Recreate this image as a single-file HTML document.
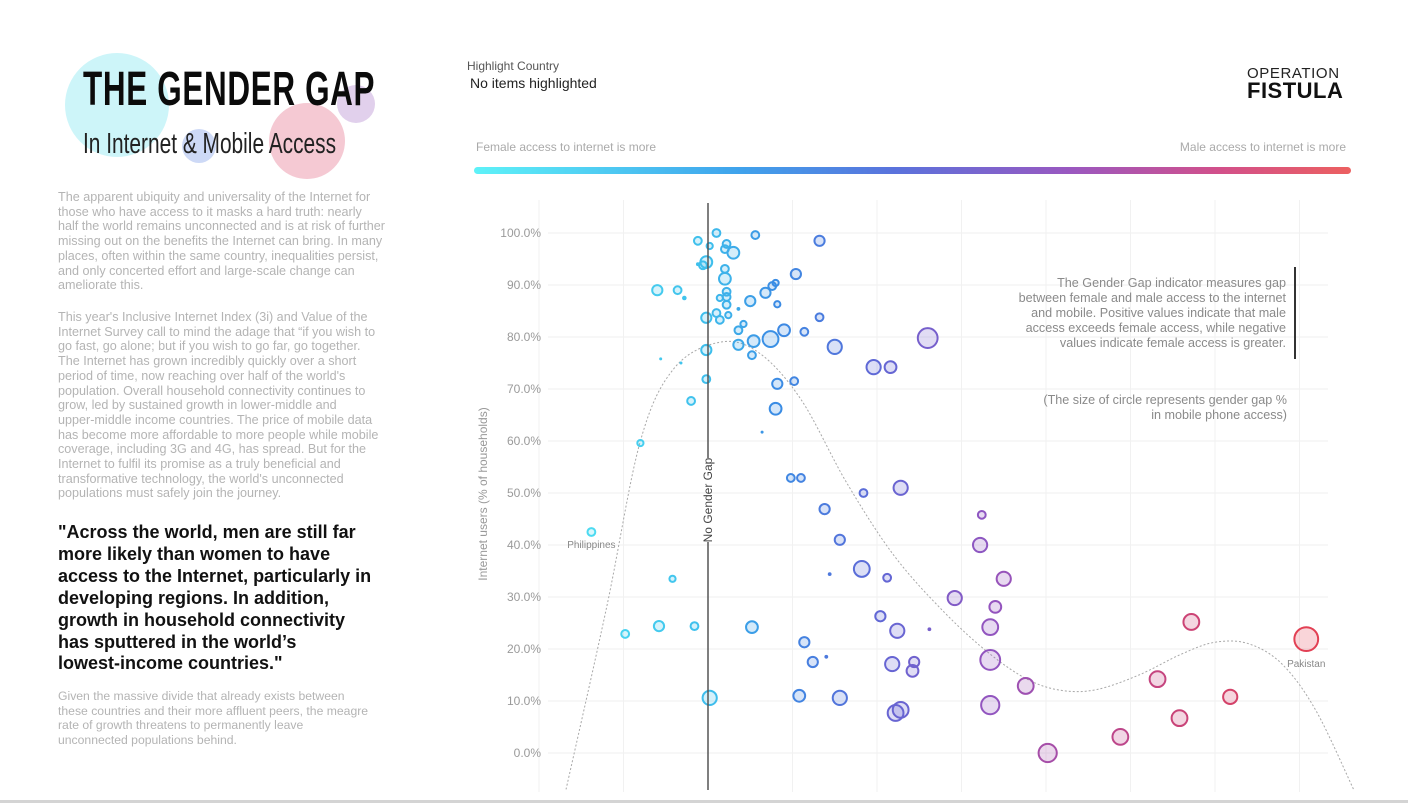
<!DOCTYPE html>
<html><head><meta charset="utf-8">
<style>
html,body{margin:0;padding:0;background:#fff;}
body{width:1408px;height:806px;position:relative;overflow:hidden;font-family:"Liberation Sans",sans-serif;}
.abs{position:absolute;}
.para{position:absolute;left:58px;width:340px;font-size:12.6px;line-height:14.7px;color:#b4b4b4;white-space:nowrap;}
.quote{position:absolute;left:58px;font-size:18px;line-height:21.9px;color:#111;font-weight:bold;white-space:nowrap;}
</style></head>
<body>
<div class="abs" style="left:65px;top:53px;width:104px;height:104px;border-radius:50%;background:#cdf5f9;"></div>
<div class="abs" style="left:269px;top:103px;width:76px;height:76px;border-radius:50%;background:#f5c9d3;"></div>
<div class="abs" style="left:337px;top:85px;width:38px;height:38px;border-radius:50%;background:#e1d0ec;"></div>
<div class="abs" style="left:182px;top:129px;width:34px;height:34px;border-radius:50%;background:#cdd9f6;"></div>
<div class="abs" style="left:83px;top:64px;font-size:48px;font-weight:bold;color:#0b0b0b;transform:scaleX(0.655);transform-origin:0 0;white-space:nowrap;letter-spacing:1px;line-height:52px;">THE GENDER GAP</div>
<div class="abs" style="left:83px;top:128px;font-size:29px;color:#222;transform:scaleX(0.72);transform-origin:0 0;white-space:nowrap;line-height:32px;">In Internet &amp; Mobile Access</div>

<div class="para" style="top:190px;">The apparent ubiquity and universality of the Internet for<br>those who have access to it masks a hard truth: nearly<br>half the world remains unconnected and is at risk of further<br>missing out on the benefits the Internet can bring. In many<br>places, often within the same country, inequalities persist,<br>and only concerted effort and large-scale change can<br>ameliorate this.</div>
<div class="para" style="top:310px;">This year's Inclusive Internet Index (3i) and Value of the<br>Internet Survey call to mind the adage that “if you wish to<br>go fast, go alone; but if you wish to go far, go together.<br>The Internet has grown incredibly quickly over a short<br>period of time, now reaching over half of the world's<br>population. Overall household connectivity continues to<br>grow, led by sustained growth in lower-middle and<br>upper-middle income countries. The price of mobile data<br>has become more affordable to more people while mobile<br>coverage, including 3G and 4G, has spread. But for the<br>Internet to fulfil its promise as a truly beneficial and<br>transformative technology, the world's unconnected<br>populations must safely join the journey.</div>
<div class="quote" style="top:522px;">"Across the world, men are still far<br>more likely than women to have<br>access to the Internet, particularly in<br>developing regions. In addition,<br>growth in household connectivity<br>has sputtered in the world’s<br>lowest-income countries."</div>
<div class="para" style="top:689px;font-size:12.2px;">Given the massive divide that already exists between<br>these countries and their more affluent peers, the meagre<br>rate of growth threatens to permanently leave<br>unconnected populations behind.</div>

<div class="abs" style="left:467px;top:59px;font-size:12px;color:#555;">Highlight Country</div>
<div class="abs" style="left:470px;top:75px;font-size:14px;color:#222;">No items highlighted</div>
<div class="abs" style="left:1247px;top:65px;font-size:15px;color:#222;letter-spacing:0.6px;">OPERATION</div>
<div class="abs" style="left:1247px;top:78px;font-size:22px;font-weight:bold;color:#111;letter-spacing:0.5px;">FISTULA</div>
<div class="abs" style="left:476px;top:140px;font-size:12px;color:#aaa;">Female access to internet is more</div>
<div class="abs" style="right:62px;top:140px;font-size:12px;color:#aaa;">Male access to internet is more</div>
<div class="abs" style="left:474px;top:167px;width:877px;height:7px;border-radius:4px;background:linear-gradient(90deg,#5ef2f8 0%,#3fa3ec 30%,#5a72dc 48%,#9a58c0 68%,#d2508a 85%,#ec6060 100%);"></div>

<svg class="abs" style="left:0;top:0" width="1408" height="806">
<g id="grid"></g><g id="trend"></g><g id="marks"></g><g id="labels"></g>
</svg>

<div class="abs" style="right:122px;top:276px;font-size:12.6px;line-height:15px;color:#8a8a8a;text-align:right;white-space:nowrap;">The Gender Gap indicator measures gap<br>between female and male access to the internet<br>and mobile. Positive values indicate that male<br>access exceeds female access, while negative<br>values indicate female access is greater.</div>
<div class="abs" style="left:1294px;top:267px;width:2px;height:92px;background:#333;"></div>
<div class="abs" style="right:121px;top:393px;font-size:12.6px;line-height:15px;color:#8a8a8a;text-align:right;white-space:nowrap;">(The size of circle represents gender gap %<br>in mobile phone access)</div>
<div class="abs" style="left:0;top:800px;width:1408px;height:3px;background:#d4d4d4;"></div>

<script>
const gaps = [0.5,2.8,-0.6,6.6,0.1,1.1,1.0,1.5,-0.1,-0.3,-0.6,1.0,1.0,5.2,-3.0,-1.8,-1.4,1.1,0.7,1.1,1.1,2.5,3.4,3.8,4.0,4.1,1.8,-0.1,0.5,0.7,1.2,2.1,1.8,6.6,4.5,5.7,2.7,3.7,1.8,7.5,13.0,2.6,-0.1,9.8,10.8,4.1,5.1,-0.1,-2.8,-1.6,-1.0,4.0,3.2,-4.0,4.9,5.5,11.4,9.2,6.9,16.2,-6.9,7.8,16.1,9.1,7.2,10.6,17.5,-2.1,14.6,17.0,10.2,28.6,2.6,-0.8,-2.9,-4.9,11.2,13.1,16.7,35.4,5.7,6.2,7.0,10.9,12.2,12.1,16.7,26.6,18.8,0.1,5.4,7.8,30.9,11.4,11.1,16.7,27.9,24.4,20.1];
const internet = [100,99.6,98.5,98.5,97.5,97.9,96.9,96.2,94.4,93.8,94.0,93.1,91.2,92.1,89.0,89.0,87.5,88.7,87.5,87.7,86.2,86.9,88.5,89.8,90.4,86.3,85.4,83.7,84.6,83.3,84.2,82.5,81.3,83.8,81.3,81.0,79.2,79.6,78.5,78.1,79.8,76.5,77.5,74.2,74.2,71.0,71.5,71.9,75.8,75.0,67.7,66.2,61.7,59.6,52.9,52.9,51.0,50.0,46.9,45.8,42.5,41.0,40.0,35.4,34.4,33.7,33.5,33.5,29.8,28.1,26.3,25.2,24.2,24.4,24.4,22.9,23.5,23.8,24.2,21.9,21.3,17.5,18.5,17.1,17.5,15.8,17.9,14.2,12.9,10.6,11.0,10.6,10.8,8.3,7.7,9.2,6.7,3.1,0];
const mobileGap = [6,6,6,9,4,6,6,11,11,6,1,6,11,9,9,6,2,6,4,6,6,9,9,6,4,4,1,9,6,6,4,4,6,6,11,6,11,16,9,14,21,6,9,14,11,9,6,6,0,0,6,11,0,4,6,6,14,6,9,6,6,9,14,16,1,6,14,4,14,11,9,16,11,6,9,6,14,1,16,26,9,9,1,14,9,11,21,16,16,14,11,14,14,16,16,19,16,16,19];
const countryLabels = [{i:60,t:"Philippines"},{i:79,t:"Pakistan"}];
const yTicks = [0,10,20,30,40,50,60,70,80,90,100];
const xGrid = [-10,-5,0,5,10,15,20,25,30,35];
const trendGap = [-8.4,-6,-4,-2,0.7,3,5.5,8.2,11,14,16.7,19,21,23,25.5,28,30,32,34,36,38.2];
const trendVal = [-7,28,60,74,79,77,68,52,38,27,19,14,12,12.2,15,19,21.3,21,17,8,-7];

const NS='http://www.w3.org/2000/svg';
const xS = g => 708 + g*16.9;
const yS = v => 753 - v*5.2;
function mk(tag,attrs,parent){const e=document.createElementNS(NS,tag);for(const k in attrs)e.setAttribute(k,attrs[k]);parent.appendChild(e);return e;}
const grid=document.getElementById('grid'),trend=document.getElementById('trend'),marks=document.getElementById('marks'),labels=document.getElementById('labels');

yTicks.forEach(v=>{
  const l=mk('line',{x1:548,x2:1328,y1:yS(v),y2:yS(v),stroke:'#efefef','stroke-width':1},grid);
  
  
  const t=mk('text',{x:541,y:yS(v)+4,'text-anchor':'end','font-size':12,fill:'#9a9a9a','font-family':'Liberation Sans, sans-serif'},labels);
  t.textContent=v.toFixed(1)+'%';
  
  
});
xGrid.forEach(g=>{
  if(g===0) return;
  const l=mk('line',{x1:xS(g),x2:xS(g),y1:200,y2:792,stroke:'#f1f1f1','stroke-width':1},grid);
  
  
});
const z1=mk('line',{x1:xS(0),x2:xS(0),y1:203,y2:458,stroke:'#555','stroke-width':1.5},labels);


const z2=mk('line',{x1:xS(0),x2:xS(0),y1:542,y2:790,stroke:'#555','stroke-width':1.5},labels);


const zt=mk('text',{x:0,y:0,transform:`translate(${xS(0)+4},500) rotate(-90)`,'text-anchor':'middle','font-size':12,fill:'#444','font-family':'Liberation Sans, sans-serif'},labels);
zt.textContent='No Gender Gap';


const yt=mk('text',{x:0,y:0,transform:'translate(487,494) rotate(-90)','text-anchor':'middle','font-size':12,fill:'#999','font-family':'Liberation Sans, sans-serif'},labels);
yt.textContent='Internet users (% of households)';



const P=trendGap.map((g,i)=>[xS(g),yS(trendVal[i])]);
let d=`M${P[0][0]},${P[0][1]}`;
for(let i=0;i<P.length-1;i++){const p0=P[Math.max(0,i-1)],p1=P[i],p2=P[i+1],p3=P[Math.min(P.length-1,i+2)];
 d+=` C${p1[0]+(p2[0]-p0[0])/6},${p1[1]+(p2[1]-p0[1])/6} ${p2[0]-(p3[0]-p1[0])/6},${p2[1]-(p3[1]-p1[1])/6} ${p2[0]},${p2[1]}`;}
const tp=mk('path',{d:d,fill:'none',stroke:'#a8a8a8','stroke-width':1,'stroke-dasharray':'2,2'},trend);



const stops=[[-8,[78,222,242]],[0,[62,190,236]],[4,[58,140,228]],[10,[96,104,214]],[17,[148,84,190]],[24,[188,70,140]],[35,[226,64,84]]];
function col(g){if(g<=stops[0][0])return stops[0][1];for(let i=0;i<stops.length-1;i++){const a=stops[i],b=stops[i+1];if(g<=b[0]){const t=(g-a[0])/(b[0]-a[0]);return a[1].map((c,k)=>Math.round(c+(b[1][k]-c)*t));}}return stops[stops.length-1][1];}
gaps.forEach((g,i)=>{
  const c=col(g),r=1.5+mobileGap[i]*0.4;
  const s=`rgb(${c.join(',')})`;
  const e=mk('circle',{cx:xS(g),cy:yS(internet[i]),r:r,fill:r<3?s:`rgba(${c.join(',')},0.22)`,stroke:s,'stroke-width':r<3?0:2},marks);
  
  
});
countryLabels.forEach(o=>{
  const r=1.5+mobileGap[o.i]*0.4;
  const t=mk('text',{x:xS(gaps[o.i]),y:yS(internet[o.i])+r*1.5+10,'text-anchor':'middle','font-size':10,fill:'#888','font-family':'Liberation Sans, sans-serif'},labels);
  t.textContent=o.t;
  
  
});
</script>
</body></html>
